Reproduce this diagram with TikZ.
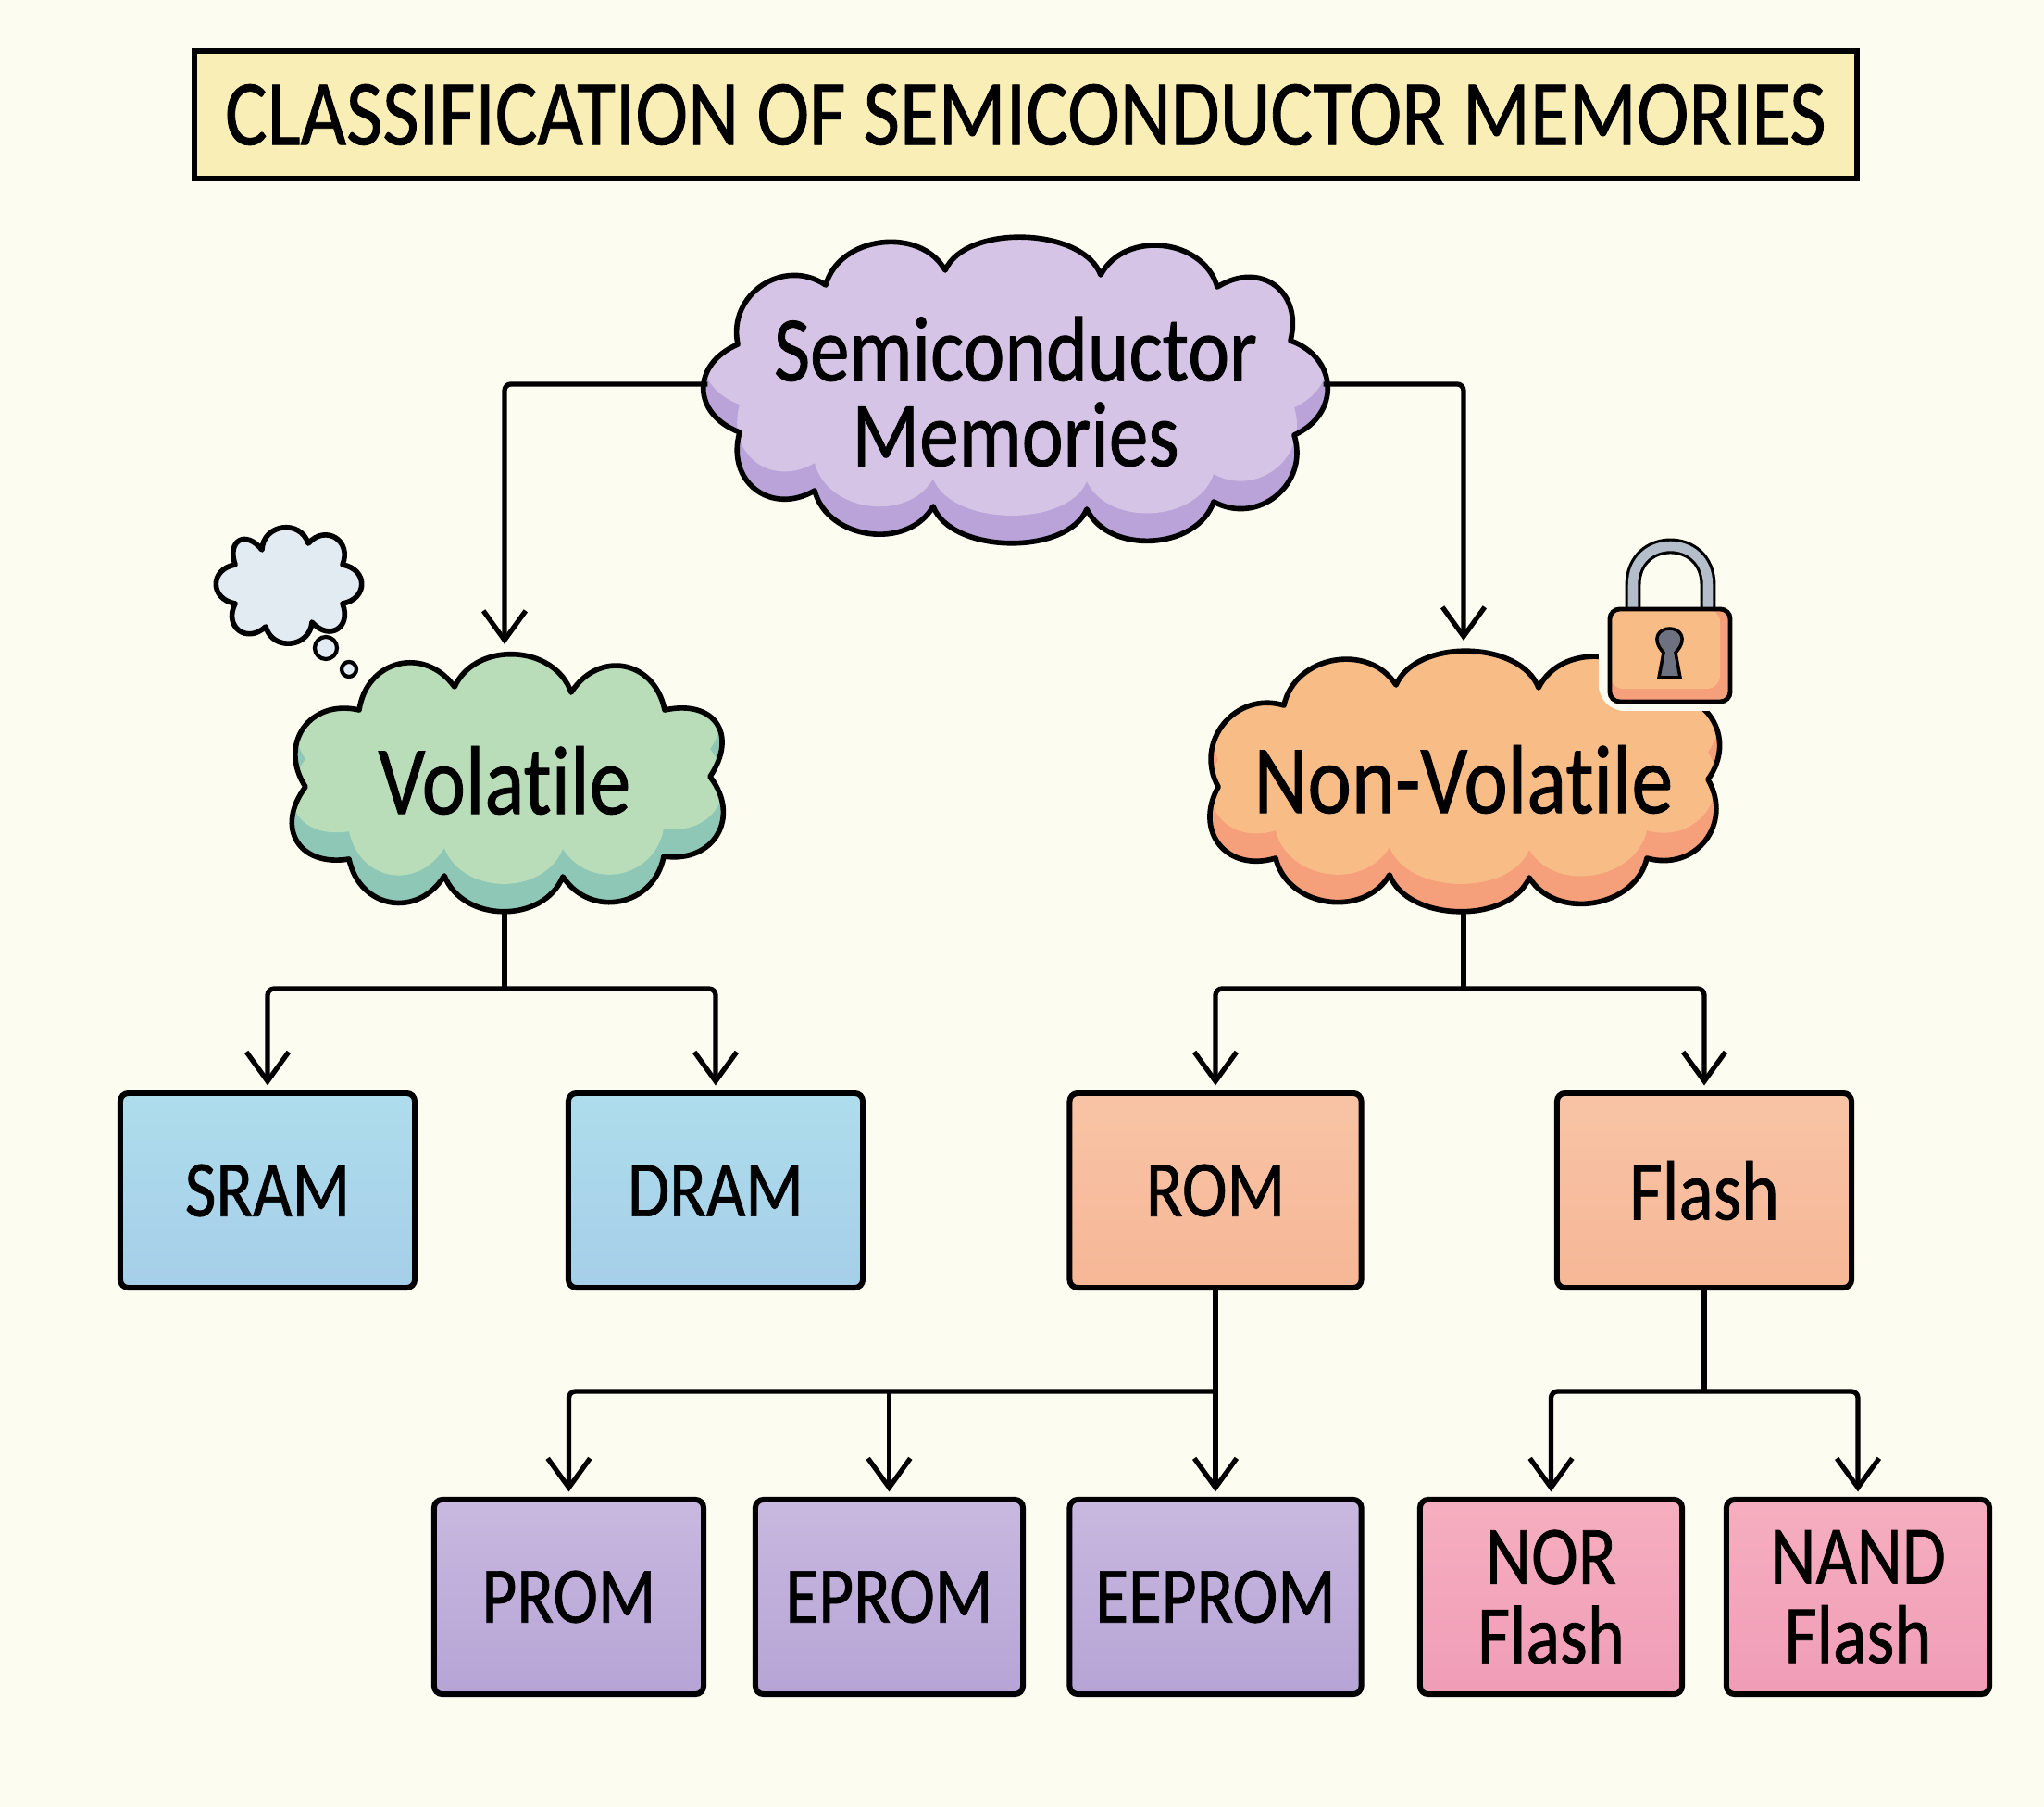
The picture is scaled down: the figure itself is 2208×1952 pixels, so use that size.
\documentclass[tikz,border=0pt]{standalone}
\usepackage{fontspec}
\setmainfont{Carlito}[FakeBold=0.8,FakeStretch=0.85,Ligatures=NoCommon]
\usetikzlibrary{arrows.meta}
\definecolor{paper}{HTML}{FDFCF0}
\definecolor{titlefill}{HTML}{F9EFB6}
\definecolor{semilight}{HTML}{D5C4E5}
\definecolor{semidark}{HTML}{B9A3D9}
\definecolor{vollight}{HTML}{B9DDB9}
\definecolor{voldark}{HTML}{8FC7B6}
\definecolor{nvlight}{HTML}{F8BD86}
\definecolor{nvdark}{HTML}{F59F7B}
\definecolor{bubble}{HTML}{E3EBF2}
\definecolor{lockgrey}{HTML}{B4BDCA}
\definecolor{lockhole}{HTML}{6D7180}
\definecolor{blueup}{HTML}{AEDDEC}
\definecolor{bluedown}{HTML}{A6CEE9}
\definecolor{peachup}{HTML}{F8C4A6}
\definecolor{peachdown}{HTML}{F6B796}
\definecolor{purpleup}{HTML}{C9B8DF}
\definecolor{purpledown}{HTML}{B6A4D6}
\definecolor{pinkup}{HTML}{F6AEBF}
\definecolor{pinkdown}{HTML}{F09DB8}
\newcommand{\puffcloud}[5]{%
  \begin{scope}
    \clip (#1,#2) \foreach \x/\y in {#3}{to[puff] (\x,\y)} -- cycle;
    \fill[#5] (0,0) rectangle (2208,1952);
    \fill[#4,yshift=8.5pt] (#1,#2) \foreach \x/\y in {#3}{to[puff] (\x,\y)} -- cycle;
  \end{scope}
  \draw[cloudline] (#1,#2) \foreach \x/\y in {#3}{to[puff] (\x,\y)} -- cycle;
}

\begin{document}
\begin{tikzpicture}[x=0.01cm, y=-0.01cm,
  puff/.style={bend left=68, distance=0.55cm},
  smallpuff/.style={bend left=80, distance=0.28cm},
  cloudline/.style={line width=1.6pt, line join=round},
  cloudlab/.style={inner sep=0pt, outer sep=0pt, align=center, font=\fontsize{30}{26.2}\selectfont},
  boxnode/.style={draw, line width=1.7pt, rounded corners=2.5pt, outer sep=0pt, align=center,
    minimum height=2.1cm, font=\fontsize{24.5}{24.4}\selectfont},
  conn/.style={line width=1.5pt, line join=round, rounded corners=2pt},
  arr/.style={conn, -{Straight Barb[length=9pt,width=13pt]}, shorten >=2.4pt}]
\useasboundingbox (0,0) rectangle (2208,1952);
\fill[paper] (0,0) rectangle (2208,1952);
% ----- title -----
\node[draw, fill=titlefill, line width=1.7pt, outer sep=0pt, minimum width=17.94cm, minimum height=1.38cm,
  font=\fontsize{28.6}{30}\selectfont] (title) at (1108,124) {CLASSIFICATION OF SEMICONDUCTOR MEMORIES};
% ----- clouds -----
\puffcloud{1021}{292}{1189/297, 1315/310, 1394/368, 1398/470, 1311/542, 1174/550, 1008/547, 880/530, 799/467, 797/372, 892/308, 1021/292}{semilight}{semidark}
\puffcloud{491}{742}{617/748, 718/767, 767/839, 717/925, 608/947, 480/946, 377/928, 330/850, 388/767, 491/742}{vollight}{voldark}
\puffcloud{1508}{740}{1662/743, 1789/752, 1845/842, 1779/927, 1652/948, 1501/945, 1378/927, 1316/850, 1387/762, 1508/740}{nvlight}{nvdark}
\node[cloudlab, minimum width=6.65cm, minimum height=3.3cm, font=\fontsize{28.5}{26.2}\selectfont] (semi) at (1097,423) {Semiconductor\\Memories};
\node[cloudlab, minimum width=4.73cm, minimum height=2.77cm] (vol) at (545,843) {Volatile};
\node[cloudlab, minimum width=5.57cm, minimum height=2.83cm] (nonvol) at (1581,842) {Non-Volatile};
% ----- thought bubble over the volatile cloud -----
\draw[cloudline, fill=bubble] (283,594) \foreach \x/\y in {333/587, 370/610, 370/652, 337/672, 287/677, 254/652, 254/610, 283/594}{to[smallpuff] (\x,\y)} -- cycle;
\draw[line width=1.2pt, fill=bubble] (352,700) circle (0.12cm);
\draw[line width=1.2pt, fill=bubble] (377,723) circle (0.08cm);
% ----- padlock over the non-volatile cloud -----
\fill[paper, rounded corners=8pt] (1727,640) rectangle (1885,768);
\draw[line width=4.8pt] (1764,662) -- (1764,632) .. controls (1764,604) and (1784,590) .. (1804.5,590)
  .. controls (1825,590) and (1845,604) .. (1845,632) -- (1845,662);
\draw[lockgrey, line width=3pt] (1764,660) -- (1764,632) .. controls (1764,604) and (1784,590) .. (1804.5,590)
  .. controls (1825,590) and (1845,604) .. (1845,632) -- (1845,660);
\fill[nvdark, rounded corners=3pt] (1739,658) rectangle (1869,758);
\fill[nvlight, rounded corners=4pt] (1739,658) rectangle (1858,744);
\draw[line width=1.4pt, rounded corners=3pt] (1739,658) rectangle (1869,758);
\draw[line width=1pt, fill=lockhole] (1797,705) .. controls (1783,690) and (1792,679) .. (1803.5,679)
  .. controls (1815,679) and (1824,690) .. (1810,705) -- (1815,732) -- (1792,732) -- cycle;
% ----- memory boxes -----
\foreach \nm/\cx/\bw/\lbl in {sram/289/3.18/SRAM, dram/773/3.18/DRAM}{
  \node[boxnode, minimum width=\bw cm, top color=blueup, bottom color=bluedown] (\nm) at (\cx,1286) {\lbl};
}
\node[boxnode, minimum width=3.15cm, top color=peachup, bottom color=peachdown] (rom) at (1313,1286) {ROM};
\node[boxnode, minimum width=3.18cm, top color=peachup, bottom color=peachdown, font=\fontsize{26}{24.4}\selectfont] (flash) at (1841,1286) {Flash};
\foreach \nm/\cx/\bw/\lbl in {prom/614.5/2.91/PROM, eprom/960.5/2.89/EPROM, eeprom/1313/3.15/EEPROM}{
  \node[boxnode, minimum width=\bw cm, top color=purpleup, bottom color=purpledown] (\nm) at (\cx,1725) {\lbl};
}
\foreach \nm/\cx/\bw/\lbl in {nor/1675.5/2.83/{NOR\\Flash}, nand/2007/2.84/{NAND\\Flash}}{
  \node[boxnode, minimum width=\bw cm, top color=pinkup, bottom color=pinkdown, font=\fontsize{25.5}{24.4}\selectfont] (\nm) at (\cx,1725) {\lbl};
}
% ----- connectors -----
\coordinate (volbus) at (545,1068);
\coordinate (nvbus) at (1581,1068);
\coordinate (rombus) at (1313,1503);
\coordinate (flashbus) at (1841,1503);
\draw[arr] ([yshift=2.3pt]semi.west) -| (vol.north);
\draw[arr] ([yshift=2.3pt]semi.east) -| (nonvol.north);
\draw[conn] (vol.south) -- (volbus);
\draw[arr] (volbus) -| (sram.north);
\draw[arr] (volbus) -| (dram.north);
\draw[conn] (nonvol.south) -- (nvbus);
\draw[arr] (nvbus) -| (rom.north);
\draw[arr] (nvbus) -| (flash.north);
\draw[conn] (rom.south) -- (rombus);
\draw[arr] (rombus) -| (prom.north);
\draw[arr] (rombus -| eprom.north) -- (eprom.north);
\draw[arr] (rombus) -- (eeprom.north);
\draw[conn] (flash.south) -- (flashbus);
\draw[arr] (flashbus) -| (nor.north);
\draw[arr] (flashbus) -| (nand.north);
\end{tikzpicture}
\end{document}
